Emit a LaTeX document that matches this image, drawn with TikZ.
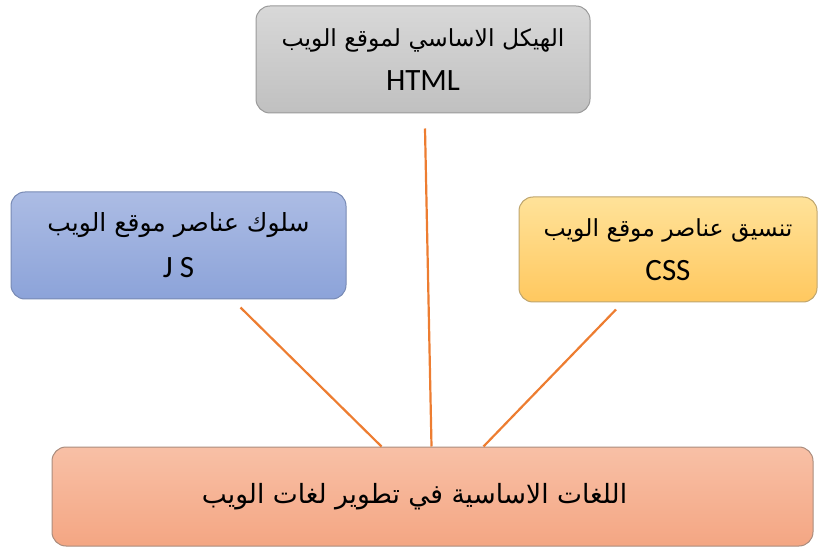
\documentclass[tikz,border=0pt]{standalone}
\usepackage{fontspec}
\setmainfont{Carlito}
\newfontfamily\arabicfont[Script=Arabic]{DejaVu Sans}
\TeXXeTstate=1
\usetikzlibrary{calc}

\definecolor{linkorange}{HTML}{ED7D31}
\definecolor{grayedge}{HTML}{9A9A9A}
\definecolor{graytop}{HTML}{D8D8D8}
\definecolor{graybot}{HTML}{C0C0C0}
\definecolor{blueedge}{HTML}{788AB4}
\definecolor{bluetop}{HTML}{ACBCE4}
\definecolor{bluebot}{HTML}{8CA3D9}
\definecolor{goldedge}{HTML}{BEA56E}
\definecolor{goldtop}{HTML}{FFE299}
\definecolor{goldbot}{HTML}{FFC85F}
\definecolor{salmonedge}{HTML}{AA8C7D}
\definecolor{salmontop}{HTML}{F8C0A6}
\definecolor{salmonbot}{HTML}{F4A683}

% Arabic font at a given size
\newcommand\arsize[1]{\arabicfont\fontsize{#1}{45}\selectfont}

\tikzset{
  box/.style={draw=#1, line width=1pt, rounded corners=14pt, inner sep=0pt,
    align=center, font=\fontsize{31}{45}\selectfont},
  link/.style={draw=linkorange, line width=2.2pt},
}

\begin{document}
\begin{tikzpicture}[x=1pt,y=-1pt]
\useasboundingbox (0,0) rectangle (820,548);

% top: page structure
\node[box=grayedge, top color=graytop, bottom color=graybot,
      minimum width=334pt, minimum height=107pt] (html) at (423,59.5)
  {{\arsize{23.5}\beginR الهيكل الاساسي لموقع الويب\endR}\\[-1pt]HTML};

% left: behaviour
\node[box=blueedge, top color=bluetop, bottom color=bluebot,
      minimum width=335pt, minimum height=107pt] (js) at (178.5,245.5)
  {{\arsize{25}\beginR سلوك عناصر موقع الويب\endR}\\[1pt]J S};

% right: styling
\node[box=goldedge, top color=goldtop, bottom color=goldbot,
      minimum width=298pt, minimum height=105pt] (css) at (668,249.5)
  {{\arsize{23.5}\beginR تنسيق عناصر موقع الويب\endR}\\[-1pt]CSS};

% bottom: the base languages
\node[box=salmonedge, top color=salmontop, bottom color=salmonbot,
      minimum width=761pt, minimum height=99pt] (base) at (432.5,496.5)
  {{\arsize{26.5}\beginR اللغات الاساسية في تطوير لغات الويب\endR}\hspace*{36pt}};

% connector ends
\coordinate (htmlfoot) at ($(html.south)+(2,15)$);
\coordinate (jsfoot)   at ($(js.south)+(62,8)$);
\coordinate (cssfoot)  at ($(css.south)+(-52,7)$);
\coordinate (basemid)   at ($(base.north west)+(380,0)$);
\coordinate (baseleft)  at ($(base.north west)+(330,0)$);
\coordinate (baseright) at ($(base.north west)+(432,0)$);

\draw[link] (htmlfoot) -- (basemid);
\draw[link] (jsfoot) -- (baseleft);
\draw[link] (cssfoot) -- (baseright);
\end{tikzpicture}
\end{document}
